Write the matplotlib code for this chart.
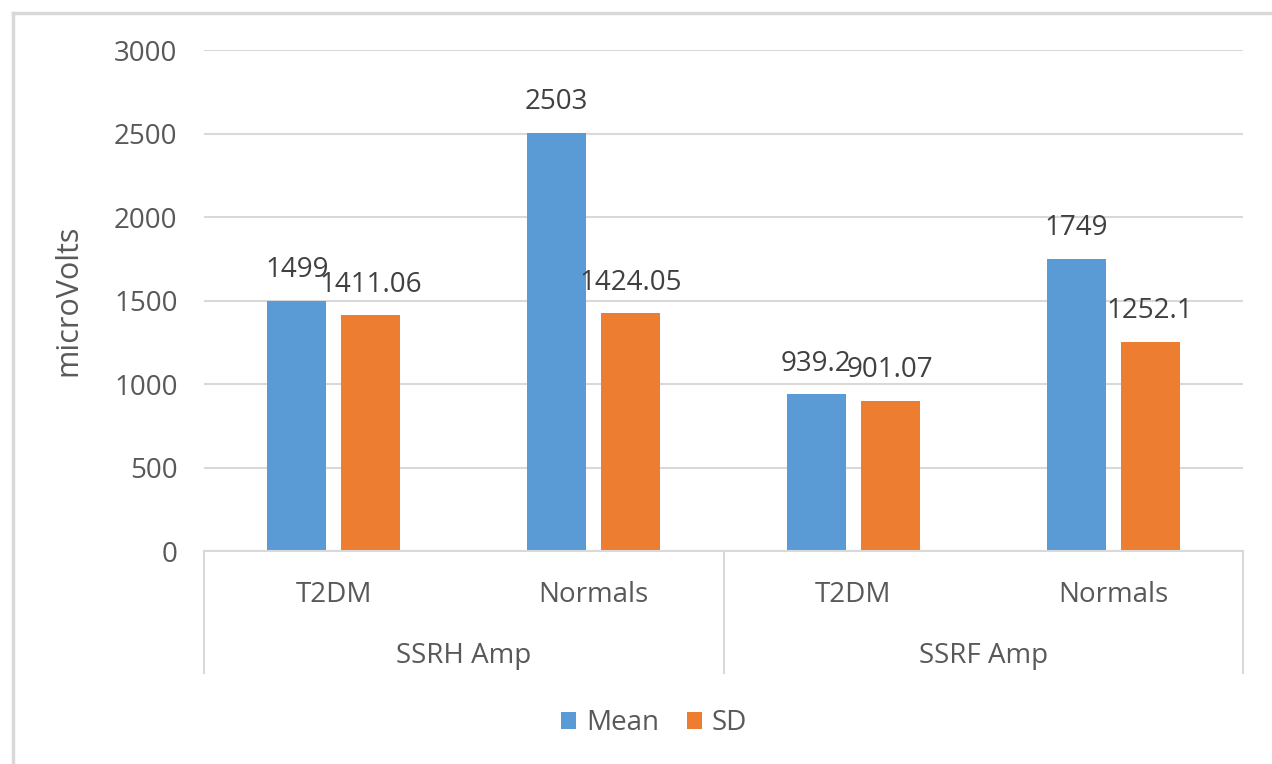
import matplotlib
matplotlib.use("Agg")
import matplotlib.pyplot as plt
from matplotlib.lines import Line2D
import matplotlib.transforms as mtransforms
import numpy as np

# Data
groups = ["SSRH Amp", "SSRF Amp"]
categories = ["T2DM", "Normals", "T2DM", "Normals"]
mean_values = [1499, 2503, 939.2, 1749]
sd_values = [1411.06, 1424.05, 901.07, 1252.1]
mean_labels = ["1499", "2503", "939.2", "1749"]
sd_labels = ["1411.06", "1424.05", "901.07", "1252.1"]
y_ticks = [0, 500, 1000, 1500, 2000, 2500, 3000]

BLUE = "#5B9BD5"
ORANGE = "#ED7D31"
TEXT = "#595959"
GRID = "#D9D9D9"

plt.rcParams["font.family"] = ["Open Sans", "DejaVu Sans"]

W, H = 1272, 764
fig = plt.figure(figsize=(W / 100, H / 100), dpi=100)
fig.patch.set_facecolor("white")

left_px, right_px, top_px, bottom_px = 204, 1243, 50, 551
ax = fig.add_axes([left_px / W, 1 - bottom_px / H,
                   (right_px - left_px) / W, (bottom_px - top_px) / H])

x = np.arange(len(categories))
bar_w = 0.227
off = 0.1425
ax.bar(x - off, mean_values, bar_w, color=BLUE, label="Mean", zorder=3)
ax.bar(x + off, sd_values, bar_w, color=ORANGE, label="SD", zorder=3)

# Value labels above each bar
fs = 20
for xi, v, s in zip(x - off, mean_values, mean_labels):
    ax.annotate(s, (xi, v), xytext=(0, 17), textcoords="offset points",
                ha="center", va="baseline", fontsize=fs, color="#404040", zorder=5)
for xi, v, s in zip(x + off, sd_values, sd_labels):
    ax.annotate(s, (xi, v), xytext=(0, 17), textcoords="offset points",
                ha="center", va="baseline", fontsize=fs, color="#404040", zorder=5)

ax.set_xlim(-0.5, len(categories) - 0.5)
ax.set_ylim(0, 3000)
ax.set_yticks(y_ticks)
ax.set_yticklabels([str(t) for t in y_ticks], fontsize=fs, color=TEXT)
ax.yaxis.grid(True, color=GRID, linewidth=1.5, zorder=0)
ax.set_axisbelow(True)
ax.tick_params(axis="y", length=0, pad=19)
ax.tick_params(axis="x", length=0)
ax.set_xticks([])

for side in ["top", "right", "left"]:
    ax.spines[side].set_visible(False)
ax.spines["bottom"].set_color(GRID)
ax.spines["bottom"].set_linewidth(1.5)
ax.spines["bottom"].set_zorder(4)

ax.set_ylabel("microVolts", fontsize=22, color=TEXT)
ax.yaxis.set_label_coords(-0.1165, 0.5)

# Two-level category axis
axh = bottom_px - top_px
trans = mtransforms.blended_transform_factory(ax.transData, ax.transAxes)
cat_y = -(595 - bottom_px) / axh
grp_y = -(656 - bottom_px) / axh
sep_y = -(673 - bottom_px) / axh
for xi, c in zip(x, categories):
    ax.text(xi, cat_y, c, transform=trans, ha="center", va="center",
            fontsize=fs, color=TEXT)
n_per = len(categories) // len(groups)
for gi, g in enumerate(groups):
    center = gi * n_per + (n_per - 1) / 2
    ax.text(center, grp_y, g, transform=trans, ha="center", va="center",
            fontsize=fs, color=TEXT)
for sx in [-0.5 + n_per * k for k in range(len(groups) + 1)]:
    ax.add_line(Line2D([sx, sx], [0, sep_y], transform=trans, color=GRID,
                       linewidth=1.5, clip_on=False))

# Legend
leg = fig.legend(loc="center", bbox_to_anchor=(654 / W, 1 - 723 / H), ncol=2,
                 frameon=False, fontsize=fs, handlelength=0.55, handleheight=0.55,
                 handletextpad=0.35, columnspacing=1.0)
for t in leg.get_texts():
    t.set_color(TEXT)

# Chart-area frame (top and left edges)
fig.add_artist(Line2D([13 / W, 1], [1 - 13 / H, 1 - 13 / H], transform=fig.transFigure,
                      color=GRID, linewidth=2.5))
fig.add_artist(Line2D([13 / W, 13 / W], [0, 1 - 13 / H], transform=fig.transFigure,
                      color=GRID, linewidth=2.5))

fig.savefig("out.png", dpi=100, facecolor="white")
